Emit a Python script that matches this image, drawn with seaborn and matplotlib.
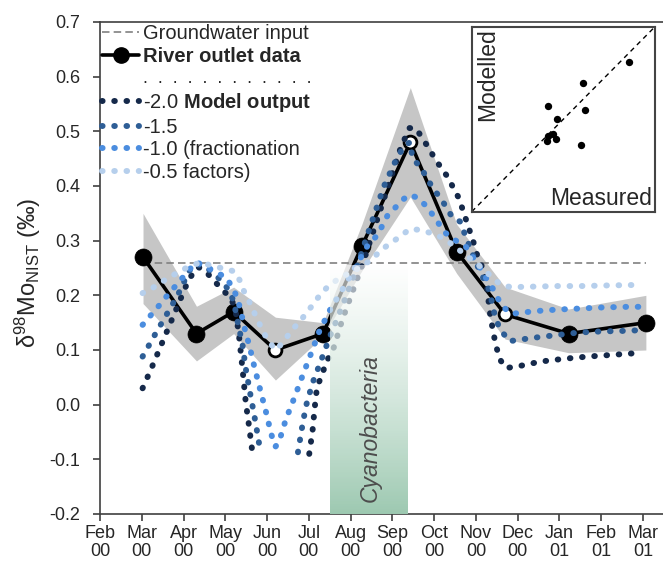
import numpy as np
import pandas as pd
import matplotlib
matplotlib.use("Agg")
import matplotlib.pyplot as plt
import seaborn as sns
from matplotlib.lines import Line2D

sns.set_theme(style="ticks")
plt.rcParams['font.family'] = ['Liberation Sans', 'DejaVu Sans']
plt.rcParams['mathtext.fontset'] = 'custom'
plt.rcParams['mathtext.rm'] = 'Liberation Sans'
plt.rcParams['mathtext.it'] = 'Liberation Sans:italic'
plt.rcParams['mathtext.bf'] = 'Liberation Sans:bold'
plt.rcParams['axes.unicode_minus'] = False

# ---------------- data ----------------
month_labels = ["Feb\n00", "Mar\n00", "Apr\n00", "May\n00", "Jun\n00", "Jul\n00", "Aug\n00",
                "Sep\n00", "Oct\n00", "Nov\n00", "Dec\n00", "Jan\n01", "Feb\n01", "Mar\n01"]
y_ticks = [-0.2, -0.1, 0.0, 0.1, 0.2, 0.3, 0.4, 0.5, 0.6, 0.7]

# months counted from 1 Feb 2000
river_month = [1.03, 2.31, 3.20, 4.20, 5.34, 6.27, 7.43, 8.54, 9.70, 11.22, 13.07]
river_value = [0.27, 0.13, 0.17, 0.10, 0.13, 0.29, 0.48, 0.28, 0.165, 0.13, 0.15]
river_open = [False, False, False, True, False, False, True, False, True, False, False]
band_upper = [0.35, 0.18, 0.215, 0.16, 0.15, 0.33, 0.58, 0.33, 0.215, 0.175, 0.20]
band_lower = [0.185, 0.08, 0.13, 0.045, 0.125, 0.245, 0.38, 0.24, 0.12, 0.095, 0.10]
groundwater = 0.26

cyano_start, cyano_end, cyano_top = 5.50, 7.36, 0.255

nan = np.nan
m20_month = [1.02, 1.25, 1.58, 1.91, 2.13, 2.35, 2.55, 2.74, 2.93, 3.14, 3.25, 3.33, 3.41, 3.49,
             3.57, 3.64, 4.3,
             5.01, 5.09, 5.14, 5.20, 5.30, 5.40, 5.60, 5.80, 6.00, 6.30, 6.60, 6.90, 7.20, 7.41,
             7.57, 7.73, 7.89, 8.01, 8.17, 8.33, 8.45, 8.57, 8.67, 8.80, 8.96, 9.04, 9.16, 9.24,
             9.35, 9.48, 9.60, 9.72, 10.0, 10.56, 11.12, 11.68, 12.24, 12.80]
m20_value = [0.03, 0.07, 0.13, 0.19, 0.23, 0.252, 0.242, 0.226, 0.21, 0.195, 0.17, 0.125, 0.067, 0.004,
             -0.04, -0.082, nan,
             -0.09, -0.047, -0.006, 0.035, 0.05, 0.075, 0.105, 0.155, 0.197, 0.26, 0.33, 0.40, 0.47, 0.506,
             0.505, 0.486, 0.467, 0.451, 0.433, 0.416, 0.398, 0.381, 0.36, 0.33, 0.293, 0.271, 0.25, 0.229,
             0.16, 0.107, 0.08, 0.067, 0.07, 0.079, 0.084, 0.088, 0.091, 0.094]

m15_month = [1.02, 1.30, 1.58, 1.86, 2.13, 2.29, 2.53, 2.89, 3.05, 3.20, 3.30, 3.41, 3.49, 3.59,
             3.69, 3.79, 3.83, 4.3,
             4.74, 4.83, 4.93, 5.09, 5.29, 5.49, 5.80, 6.10, 6.40, 6.80, 7.10, 7.30, 7.43,
             7.48, 7.69, 7.85, 8.00, 8.18, 8.33, 8.45, 8.62, 8.83, 9.00, 9.20, 9.32, 9.44, 9.56,
             9.68, 9.79, 10.34, 10.90, 11.46, 12.02, 12.58, 12.88]
m15_value = [0.088, 0.126, 0.163, 0.20, 0.244, 0.258, 0.252, 0.228, 0.213, 0.19, 0.15, 0.111, 0.066, 0.023,
             -0.018, -0.062, -0.082, nan,
             -0.087, -0.045, -0.003, 0.04, 0.08, 0.122, 0.18, 0.24, 0.31, 0.40, 0.45, 0.475, 0.48,
             0.451, 0.433, 0.411, 0.393, 0.375, 0.356, 0.341, 0.335, 0.293, 0.26, 0.228, 0.21, 0.168, 0.14,
             0.128, 0.116, 0.122, 0.127, 0.132, 0.134, 0.135, 0.136]

m10_month = [1.02, 1.21, 1.39, 1.57, 1.75, 1.93, 2.12, 2.30, 2.52, 2.79, 3.03, 3.20, 3.29, 3.35,
             3.49, 3.57, 3.69, 3.83, 3.97, 4.10, 4.20, 4.29, 4.45, 4.65, 4.85, 5.05, 5.25, 5.49,
             5.80, 6.10, 6.40, 6.65, 6.77, 6.89, 7.09, 7.25, 7.41, 7.62, 7.80, 7.94, 8.08, 8.20,
             8.33, 8.52, 8.75, 8.92, 9.08, 9.24, 9.40, 9.52, 9.64, 9.84, 10.40, 10.96, 11.52,
             12.08, 12.64, 12.92]
m10_value = [0.146, 0.163, 0.179, 0.196, 0.212, 0.228, 0.245, 0.261, 0.253, 0.242, 0.232, 0.21, 0.195, 0.177,
             0.131, 0.11, 0.071, 0.029, -0.012, -0.054, -0.077, -0.067, -0.027, 0.012, 0.053, 0.093, 0.134, 0.171,
             0.21, 0.25, 0.29, 0.311, 0.329, 0.347, 0.362, 0.375, 0.384, 0.378, 0.364, 0.35, 0.335, 0.32,
             0.31, 0.30, 0.29, 0.271, 0.253, 0.232, 0.213, 0.195, 0.18, 0.166, 0.171, 0.174, 0.176,
             0.178, 0.179, 0.179]

m05_month = [1.02, 1.27, 1.49, 1.73, 1.96, 2.20, 2.41, 2.69, 2.95, 3.21, 3.35, 3.45, 3.57, 3.79,
             4.00, 4.20, 4.40, 4.59, 4.77, 4.94, 5.10, 5.25, 5.43, 5.65, 5.90, 6.20, 6.50, 6.73,
             6.97, 7.21, 7.41, 7.64, 7.92, 8.18, 8.40, 8.65, 8.90, 9.15, 9.40, 9.60, 9.84, 10.40,
             10.96, 11.52, 12.08, 12.84]
m05_value = [0.204, 0.214, 0.225, 0.236, 0.246, 0.255, 0.26, 0.254, 0.249, 0.244, 0.227, 0.207, 0.189, 0.152,
             0.12, 0.10, 0.115, 0.137, 0.15, 0.168, 0.183, 0.199, 0.214, 0.227, 0.238, 0.25, 0.265, 0.283,
             0.296, 0.309, 0.321, 0.32, 0.314, 0.306, 0.295, 0.28, 0.265, 0.25, 0.232, 0.219, 0.215, 0.216,
             0.217, 0.217, 0.218, 0.219]

model_labels = ["-2.0", "-1.5", "-1.0", "-0.5"]
model_months = [m20_month, m15_month, m10_month, m05_month]
model_values = [m20_value, m15_value, m10_value, m05_value]
model_colors = ["#15294a", "#2e5e96", "#4b8ddf", "#b6cfec"]

inset_measured = [0.86, 0.607, 0.416, 0.62, 0.467, 0.418, 0.442, 0.413, 0.458, 0.595]
inset_modelled = [0.807, 0.697, 0.573, 0.55, 0.503, 0.409, 0.42, 0.38, 0.391, 0.359]

# ---------------- figure ----------------
fig = plt.figure(figsize=(6.63, 5.66), dpi=100)
ax = fig.add_axes([100 / 663, 52 / 566, 563 / 663, 492 / 566])

DOT = (0, (0.1, 1.95))
LW_DOT = 4.3

# uncertainty band
ax.fill_between(river_month, band_lower, band_upper, color="#c6c6c6", lw=0, zorder=1)

# groundwater input
ax.plot([river_month[0], river_month[-1]], [groundwater, groundwater], color="#808080",
        lw=1.2, dashes=(4.5, 2.5), zorder=1.5)

# river outlet data
river_df = pd.DataFrame({"month": river_month, "value": river_value, "open": river_open})
sns.lineplot(data=river_df, x="month", y="value", color="black", lw=2.6, sort=False,
             estimator=None, ax=ax, zorder=3, legend=False)
sns.scatterplot(data=river_df[~river_df["open"]], x="month", y="value", color="black",
                s=150, edgecolor="black", linewidth=0.5, ax=ax, zorder=3.5, legend=False)
sns.scatterplot(data=river_df[river_df["open"]], x="month", y="value", facecolor="white",
                s=85, edgecolor="black", linewidth=2.0, ax=ax, zorder=3.5, legend=False)

# model outputs (dotted)
for months, values, col in zip(model_months, model_values, model_colors):
    d = pd.DataFrame({"month": months, "value": values})
    d["segment"] = d["value"].isna().cumsum()
    d = d.dropna()
    n_before = len(ax.lines)
    sns.lineplot(data=d, x="month", y="value", units="segment", estimator=None, sort=False,
                 color=col, lw=LW_DOT, ax=ax, zorder=4, legend=False)
    for ln in ax.lines[n_before:]:
        ln.set_linestyle(DOT)
        ln.set_dash_capstyle("round")

# cyanobacteria bloom gradient
grad = np.linspace(0, 1, 256)[:, None]
top_c = np.array([1.0, 1.0, 1.0, 0.6])
bot_c = np.array([0.616, 0.788, 0.694, 1.0])
img = top_c[None, None, :] * (1 - grad[:, :, None]) + bot_c[None, None, :] * grad[:, :, None]
ax.imshow(img, extent=[cyano_start, cyano_end, -0.2, cyano_top], origin="upper",
          aspect="auto", zorder=5, interpolation="bilinear")
ax.text((cyano_start + cyano_end) / 2 + 0.03, -0.042, "Cyanobacteria", rotation=90, style="italic",
        color="#4d4d4d", fontsize=16.5, ha="center", va="center", zorder=6)

# axes styling
ax.set_xlim(0, 13.48)
ax.set_ylim(-0.2, 0.7)
ax.set_xticks(range(len(month_labels)))
ax.set_xticklabels(month_labels, fontsize=13, linespacing=1.05)
ax.set_yticks(y_ticks)
ax.set_yticklabels([f"{v:.1f}" for v in y_ticks], fontsize=13)
ax.tick_params(axis="both", direction="out", length=5, width=1.2, color="#404040")
ax.tick_params(axis="y", pad=9)
ax.tick_params(axis="x", pad=3)
ax.set_xlabel("")
ax.set_ylabel(r"δ$^{\mathrm{98}}$Mo$_{\mathrm{NIST}}$ (‰)", fontsize=17, va="center")
ax.yaxis.set_label_coords(-0.128, 0.49)
for side in ["left", "bottom", "top"]:
    ax.spines[side].set_visible(True)
    ax.spines[side].set_color("#404040")
    ax.spines[side].set_linewidth(1.2)
ax.spines["right"].set_visible(False)

# legend
handles = [
    Line2D([0], [0], color="#808080", lw=1.2, dashes=(4.5, 2.5)),
    Line2D([0], [0], color="black", lw=2.6, marker="o", markersize=11),
    Line2D([], [], linestyle="none"),
]
labels = ["Groundwater input", "River outlet data", ".  " * 11 + "."]
extra = [r" $\bf{Model\ output}$", "", " (fractionation", " factors)"]
for lab, col, ex in zip(model_labels, model_colors, extra):
    handles.append(Line2D([0], [0], color=col, lw=LW_DOT, linestyle=DOT, dash_capstyle="round"))
    labels.append(lab + ex)
leg = ax.legend(handles, labels, loc="upper left", bbox_to_anchor=(0.0, 1.0), frameon=False,
                fontsize=14.5, handlelength=1.85, handletextpad=0.2, labelspacing=0.18,
                borderaxespad=0.0, borderpad=0.1, numpoints=1)
leg.get_texts()[1].set_fontweight("bold")
leg.get_texts()[2].set_fontsize(13)
leg.set_zorder(7)

# inset: modelled vs measured
axin = fig.add_axes([471.7 / 663, (566 - 211.7) / 566, 183.3 / 663, 185 / 566])
axin.plot([0, 1], [0, 1], color="black", lw=1.0, dashes=(3.5, 3))
sns.scatterplot(x=inset_measured, y=inset_modelled, color="black", s=28, edgecolor="black",
                linewidth=0, ax=axin, legend=False)
axin.set_xlim(0, 1)
axin.set_ylim(0, 1)
axin.set_xticks([])
axin.set_yticks([])
for s in axin.spines.values():
    s.set_visible(True)
    s.set_color("#444444")
    s.set_linewidth(1.5)
axin.text(0.025, 0.99, "Modelled", rotation=90, ha="left", va="top", fontsize=16.5)
axin.text(0.985, 0.01, "Measured", ha="right", va="bottom", fontsize=16.5)

fig.savefig("out.png", dpi=100)
